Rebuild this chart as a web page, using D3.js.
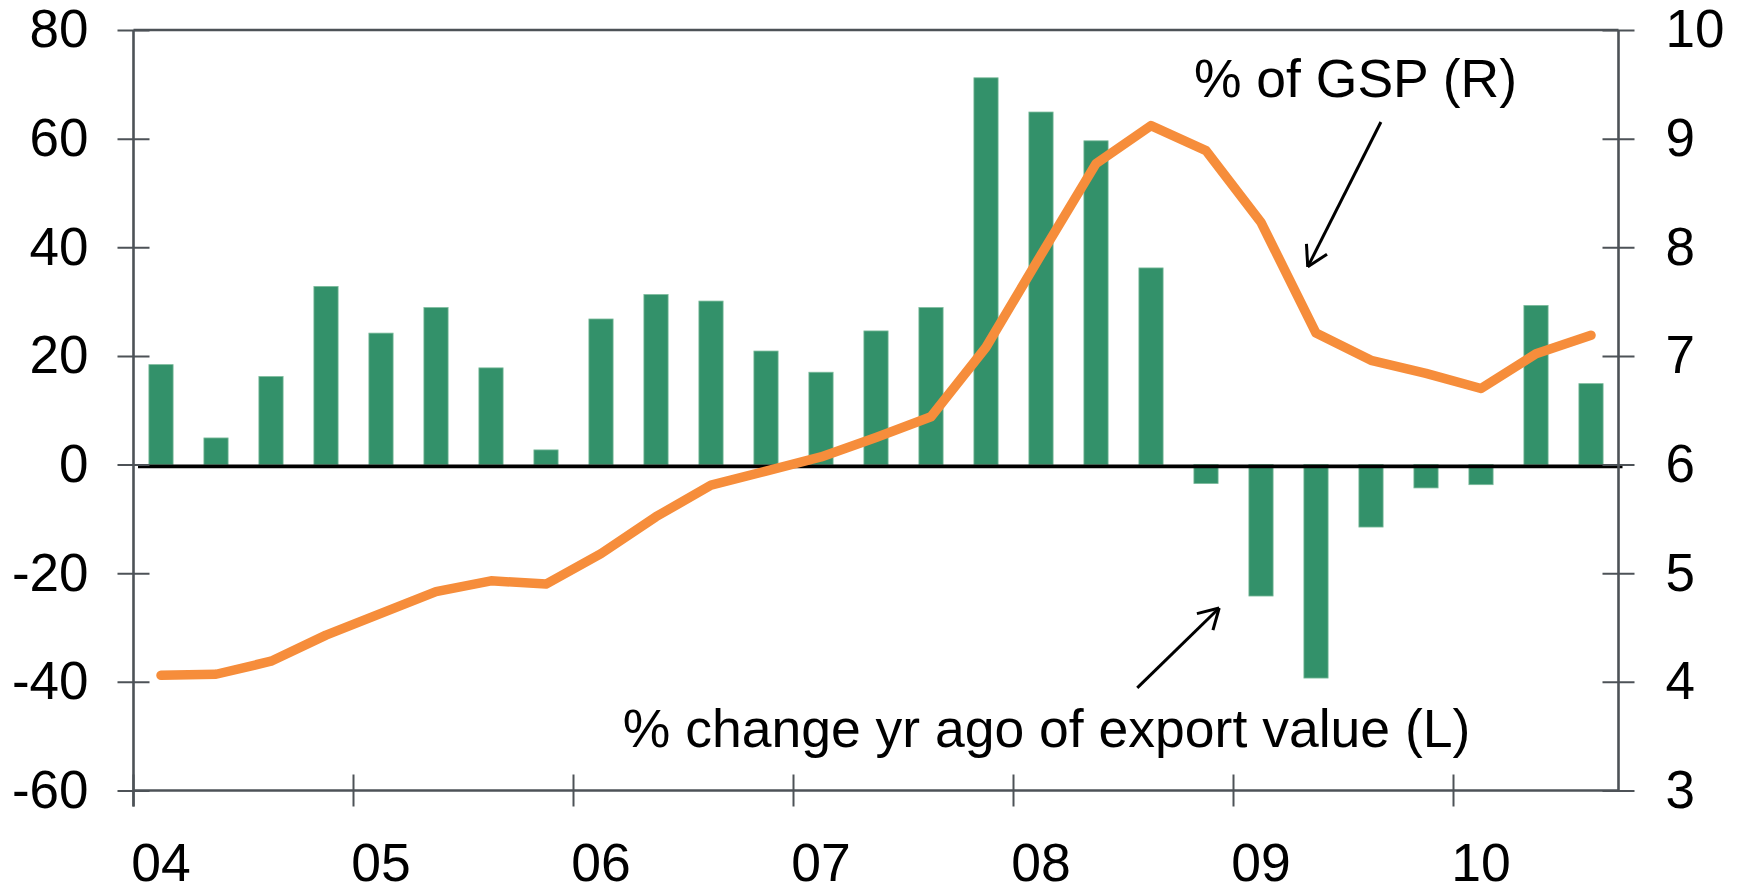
<!DOCTYPE html>
<html>
<head>
<meta charset="utf-8">
<script src="https://cdn.jsdelivr.net/npm/d3@7"></script>
<style>
  html, body { margin: 0; padding: 0; background: #fff; }
  svg { display: block; font-family: "Liberation Sans", Arial, sans-serif; }
</style>
</head>
<body>
<svg id="chart" width="1743" height="893"></svg>
<script>
// ---- data ----
const quarters = [
  "04Q1","04Q2","04Q3","04Q4","05Q1","05Q2","05Q3","05Q4",
  "06Q1","06Q2","06Q3","06Q4","07Q1","07Q2","07Q3","07Q4",
  "08Q1","08Q2","08Q3","08Q4","09Q1","09Q2","09Q3","09Q4",
  "10Q1","10Q2","10Q3"
];
// % change yr ago of export value (L)
const exportChange = [
  18.4, 4.9, 16.2, 32.8, 24.2, 28.9, 17.8, 2.7,
  26.8, 31.3, 30.1, 20.9, 17.0, 24.6, 28.9, 71.2,
  64.9, 59.6, 36.2, -3.5, -24.2, -39.3, -11.5, -4.3,
  -3.7, 29.3, 14.9
];
// % of GSP (R)
const pctGSP = [
  4.06, 4.07, 4.19, 4.43, 4.63, 4.83, 4.93, 4.90,
  5.18, 5.52, 5.81, 5.94, 6.07, 6.25, 6.44, 7.08,
  7.93, 8.77, 9.12, 8.89, 8.23, 7.21, 6.96, 6.84,
  6.70, 7.02, 7.19
];
const yearLabels = ["04","05","06","07","08","09","10"];
const leftTicks = [-60, -40, -20, 0, 20, 40, 60, 80];
const rightTicks = [3, 4, 5, 6, 7, 8, 9, 10];

// ---- layout ----
const svg = d3.select("#chart");
const L = 133.5, R = 1618.5, T = 30, B = 790.5;
const FS_TICK = 53, FS_X = 53.5, FS_NOTE = 53.5;
const axisColor = "#4d5257";

const x = d3.scaleBand().domain(quarters).range([L, R]).paddingInner(0.56).paddingOuter(0.28);
const xq = d3.scaleLinear().domain([0, quarters.length]).range([L, R]);
const yL = d3.scaleLinear().domain([-60, 80]).range([B, T]);
const yR = d3.scaleLinear().domain([3, 10]).range([B, T]);

// bars
svg.append("g").selectAll("rect").data(exportChange).join("rect")
  .attr("x", (d, i) => x(quarters[i]))
  .attr("width", x.bandwidth())
  .attr("y", d => yL(Math.max(0, d)))
  .attr("height", d => Math.abs(yL(d) - yL(0)))
  .attr("fill", "#33916a")
  .attr("stroke", "#7cbb9c")
  .attr("stroke-width", 0.8);

// zero line
svg.append("line")
  .attr("x1", L + 4.5).attr("x2", R + 4)
  .attr("y1", yL(0) + 1.8).attr("y2", yL(0) + 1.8)
  .attr("stroke", "#000").attr("stroke-width", 3.8);

// GSP line
const line = d3.line()
  .x((d, i) => x(quarters[i]) + x.bandwidth() / 2)
  .y(d => yR(d));
svg.append("path").datum(pctGSP)
  .attr("d", line)
  .attr("fill", "none")
  .attr("stroke", "#f68d3b")
  .attr("stroke-width", 9.5)
  .attr("stroke-linejoin", "round")
  .attr("stroke-linecap", "round");

// frame: top and bottom
svg.append("line").attr("x1", L).attr("x2", R).attr("y1", T).attr("y2", T)
  .attr("stroke", axisColor).attr("stroke-width", 2.6);
svg.append("line").attr("x1", L).attr("x2", R).attr("y1", B).attr("y2", B)
  .attr("stroke", axisColor).attr("stroke-width", 2.6);

const fmt = d => String(d);

// left axis
const gL = svg.append("g").attr("transform", `translate(${L},0)`)
  .call(d3.axisLeft(yL).tickValues(leftTicks).tickSize(16).tickPadding(29).tickFormat(fmt));
gL.select(".domain").remove();
gL.append("line").attr("y1", T).attr("y2", B + 16).attr("stroke", axisColor).attr("stroke-width", 2.6);
gL.selectAll(".tick line").attr("x1", -16).attr("x2", 16).attr("stroke", axisColor).attr("stroke-width", 2);
gL.selectAll(".tick text").attr("font-size", FS_TICK).attr("fill", "#000")
  .attr("font-family", "Liberation Sans, Arial, sans-serif");

// right axis
const gR = svg.append("g").attr("transform", `translate(${R},0)`)
  .call(d3.axisRight(yR).tickValues(rightTicks).tickSize(16).tickPadding(31).tickFormat(fmt));
gR.select(".domain").remove();
gR.append("line").attr("y1", T).attr("y2", B).attr("stroke", axisColor).attr("stroke-width", 2.6);
gR.selectAll(".tick line").attr("x1", -16).attr("x2", 16).attr("stroke", axisColor).attr("stroke-width", 2);
gR.selectAll(".tick text").attr("font-size", FS_TICK).attr("fill", "#000")
  .attr("font-family", "Liberation Sans, Arial, sans-serif");

// x axis ticks (year boundaries) and labels
const yearTicks = yearLabels.map(yl => yl + "Q1");
const step = x.step();
const gX = svg.append("g");
gX.selectAll("line").data(yearTicks).join("line")
  .attr("x1", d => x(d) - step * 0.28).attr("x2", d => x(d) - step * 0.28)
  .attr("y1", B - 16).attr("y2", B + 16)
  .attr("stroke", axisColor).attr("stroke-width", 2);
gX.selectAll("text").data(yearLabels).join("text")
  .attr("x", d => x(d + "Q1") + x.bandwidth() / 2)
  .attr("y", 881)
  .attr("text-anchor", "middle")
  .attr("font-size", FS_X)
  .attr("fill", "#000")
  .text(d => d);

// annotations (positioned in data space)
function arrow(x1, y1, x2, y2) {
  const g = svg.append("g").attr("stroke", "#000").attr("stroke-width", 3).attr("fill", "none");
  g.append("line").attr("x1", x1).attr("y1", y1).attr("x2", x2).attr("y2", y2);
  const ang = Math.atan2(y1 - y2, x1 - x2);
  const len = 23, spread = Math.PI / 6;
  [ang - spread, ang + spread].forEach(a => {
    g.append("line").attr("x1", x2).attr("y1", y2)
      .attr("x2", x2 + len * Math.cos(a)).attr("y2", y2 + len * Math.sin(a));
  });
}
svg.append("text")
  .attr("x", xq(19.28)).attr("y", yR(9.38))
  .attr("font-size", FS_NOTE).attr("fill", "#000")
  .text("% of GSP (R)");
arrow(xq(22.68), yR(9.153), xq(21.35), yR(7.82));

svg.append("text")
  .attr("x", xq(16.6)).attr("y", yL(-52.0))
  .attr("text-anchor", "middle")
  .attr("font-size", FS_NOTE).attr("fill", "#000")
  .text("% change yr ago of export value (L)");
arrow(xq(18.25), yL(-41.1), xq(19.74), yL(-26.4));
</script>
</body>
</html>
